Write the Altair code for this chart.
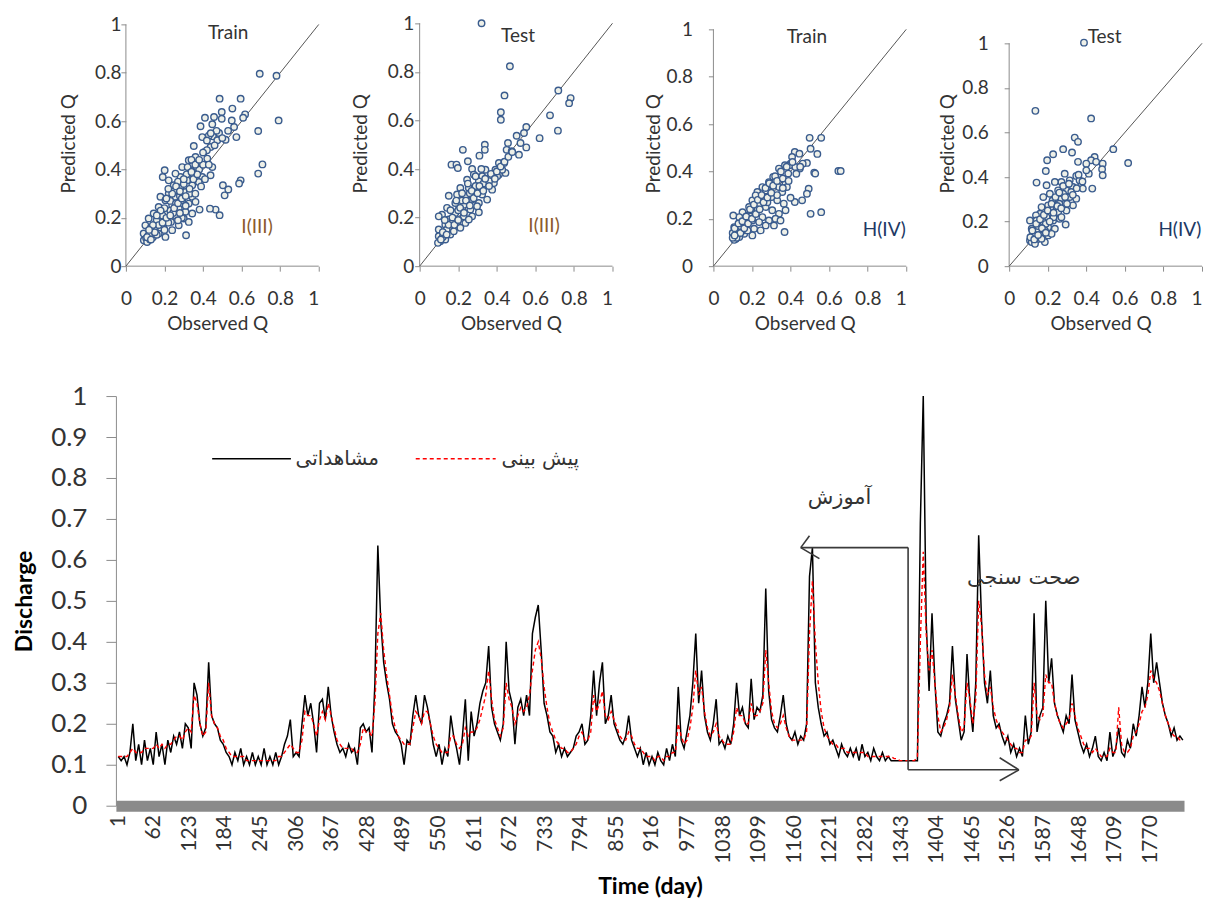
import altair as alt
import pandas as pd

# ---------------- time series (every 5th day) ----------------
obs = [
    0.12, 0.11, 0.12, 0.10, 0.13, 0.20, 0.11, 0.15, 0.10, 0.16, 0.11, 0.14,
    0.10, 0.18, 0.12, 0.15, 0.10, 0.16, 0.13, 0.17, 0.15, 0.18, 0.14, 0.20,
    0.19, 0.14, 0.30, 0.27, 0.20, 0.17, 0.19, 0.35, 0.22, 0.20, 0.19, 0.16,
    0.15, 0.13, 0.12, 0.10, 0.13, 0.11, 0.14, 0.10, 0.12, 0.10, 0.13, 0.10,
    0.12, 0.10, 0.14, 0.10, 0.12, 0.10, 0.13, 0.10, 0.12, 0.15, 0.17, 0.21,
    0.12, 0.13, 0.12, 0.20, 0.27, 0.22, 0.25, 0.20, 0.13, 0.25, 0.26, 0.21,
    0.29, 0.22, 0.18, 0.15, 0.13, 0.14, 0.12, 0.15, 0.13, 0.14, 0.10, 0.19,
    0.20, 0.18, 0.19, 0.13, 0.30, 0.635, 0.45, 0.35, 0.30, 0.26, 0.20, 0.18,
    0.17, 0.15, 0.10, 0.16, 0.15, 0.22, 0.27, 0.22, 0.20, 0.27, 0.24, 0.20,
    0.15, 0.12, 0.15, 0.10, 0.14, 0.12, 0.22, 0.17, 0.14, 0.10, 0.17, 0.26,
    0.11, 0.23, 0.17, 0.20, 0.25, 0.28, 0.30, 0.39, 0.24, 0.20, 0.18, 0.16,
    0.20, 0.40, 0.28, 0.25, 0.15, 0.24, 0.26, 0.22, 0.27, 0.22, 0.42, 0.46,
    0.49, 0.38, 0.25, 0.22, 0.18, 0.17, 0.13, 0.15, 0.12, 0.14, 0.12, 0.13,
    0.14, 0.17, 0.18, 0.20, 0.15, 0.16, 0.22, 0.33, 0.22, 0.30, 0.35, 0.20,
    0.22, 0.27, 0.20, 0.18, 0.16, 0.15, 0.17, 0.22, 0.16, 0.14, 0.12, 0.14,
    0.10, 0.13, 0.10, 0.12, 0.10, 0.13, 0.11, 0.10, 0.14, 0.11, 0.15, 0.12,
    0.29, 0.16, 0.14, 0.18, 0.22, 0.30, 0.42, 0.25, 0.33, 0.22, 0.18, 0.16,
    0.20, 0.26, 0.15, 0.16, 0.14, 0.17, 0.15, 0.20, 0.30, 0.22, 0.24, 0.20,
    0.19, 0.31, 0.21, 0.24, 0.23, 0.27, 0.53, 0.28, 0.21, 0.19, 0.18, 0.22,
    0.27, 0.20, 0.17, 0.16, 0.18, 0.15, 0.17, 0.16, 0.20, 0.56, 0.63, 0.30,
    0.24, 0.20, 0.17, 0.18, 0.15, 0.16, 0.14, 0.12, 0.15, 0.13, 0.12, 0.14,
    0.12, 0.14, 0.11, 0.15, 0.12, 0.13, 0.11, 0.14, 0.12, 0.11, 0.13, 0.11,
    0.12, 0.11, 0.11, 0.11, 0.11, 0.11, 0.11, 0.11, 0.11, 0.11, 0.11, 0.69,
    1.00, 0.45, 0.28, 0.47, 0.30, 0.18, 0.17, 0.20, 0.22, 0.25, 0.39, 0.26,
    0.21, 0.16, 0.18, 0.37, 0.25, 0.18, 0.30, 0.66, 0.45, 0.30, 0.25, 0.33,
    0.22, 0.19, 0.20, 0.17, 0.15, 0.17, 0.13, 0.15, 0.12, 0.14, 0.12, 0.22,
    0.15, 0.18, 0.47, 0.18, 0.22, 0.24, 0.50, 0.30, 0.36, 0.25, 0.22, 0.20,
    0.18, 0.22, 0.20, 0.32, 0.21, 0.18, 0.15, 0.13, 0.15, 0.12, 0.14, 0.17,
    0.12, 0.11, 0.13, 0.11, 0.18, 0.12, 0.14, 0.19, 0.13, 0.12, 0.16, 0.14,
    0.20, 0.17, 0.22, 0.29, 0.24, 0.30, 0.42, 0.30, 0.35, 0.30, 0.25, 0.22,
    0.20, 0.17, 0.19, 0.16, 0.17, 0.16,
]
pred = [
    0.12, 0.12, 0.12, 0.12, 0.13, 0.14, 0.13, 0.13, 0.13, 0.14, 0.14, 0.14,
    0.14, 0.15, 0.14, 0.15, 0.14, 0.15, 0.15, 0.16, 0.17, 0.17, 0.16, 0.18,
    0.19, 0.18, 0.27, 0.25, 0.20, 0.17, 0.18, 0.30, 0.22, 0.20, 0.19, 0.17,
    0.16, 0.14, 0.13, 0.12, 0.12, 0.12, 0.12, 0.12, 0.11, 0.11, 0.11, 0.11,
    0.11, 0.11, 0.11, 0.11, 0.11, 0.11, 0.11, 0.12, 0.12, 0.13, 0.14, 0.15,
    0.14, 0.13, 0.13, 0.16, 0.23, 0.22, 0.22, 0.20, 0.17, 0.21, 0.23, 0.21,
    0.25, 0.22, 0.19, 0.16, 0.15, 0.14, 0.14, 0.14, 0.14, 0.13, 0.13, 0.15,
    0.19, 0.18, 0.18, 0.17, 0.25, 0.42, 0.47, 0.38, 0.32, 0.27, 0.22, 0.19,
    0.17, 0.16, 0.15, 0.15, 0.15, 0.19, 0.23, 0.22, 0.20, 0.23, 0.23, 0.20,
    0.17, 0.15, 0.14, 0.13, 0.13, 0.13, 0.17, 0.17, 0.15, 0.14, 0.15, 0.19,
    0.17, 0.18, 0.18, 0.19, 0.21, 0.24, 0.27, 0.33, 0.26, 0.21, 0.19, 0.17,
    0.19, 0.30, 0.26, 0.24, 0.20, 0.22, 0.24, 0.23, 0.24, 0.27, 0.33, 0.38,
    0.40, 0.36, 0.29, 0.24, 0.20, 0.18, 0.16, 0.15, 0.14, 0.14, 0.13, 0.13,
    0.14, 0.15, 0.17, 0.18, 0.16, 0.16, 0.18, 0.27, 0.23, 0.25, 0.28, 0.22,
    0.21, 0.23, 0.21, 0.19, 0.17, 0.16, 0.16, 0.18, 0.17, 0.15, 0.14, 0.14,
    0.13, 0.12, 0.12, 0.12, 0.11, 0.12, 0.12, 0.11, 0.12, 0.12, 0.13, 0.13,
    0.20, 0.17, 0.15, 0.16, 0.19, 0.24, 0.33, 0.27, 0.29, 0.23, 0.19, 0.17,
    0.18, 0.20, 0.17, 0.16, 0.15, 0.15, 0.15, 0.18, 0.24, 0.22, 0.22, 0.20,
    0.20, 0.25, 0.22, 0.22, 0.23, 0.25, 0.38, 0.30, 0.23, 0.20, 0.19, 0.20,
    0.22, 0.19, 0.17, 0.16, 0.16, 0.16, 0.16, 0.16, 0.18, 0.42, 0.55, 0.40,
    0.30, 0.23, 0.19, 0.17, 0.16, 0.15, 0.15, 0.14, 0.14, 0.14, 0.13, 0.13,
    0.13, 0.13, 0.13, 0.13, 0.13, 0.12, 0.12, 0.12, 0.12, 0.12, 0.12, 0.12,
    0.12, 0.12, 0.115, 0.115, 0.11, 0.11, 0.11, 0.11, 0.11, 0.11, 0.12, 0.40,
    0.62, 0.42, 0.33, 0.38, 0.30, 0.22, 0.18, 0.19, 0.21, 0.24, 0.32, 0.27,
    0.22, 0.18, 0.19, 0.30, 0.26, 0.20, 0.26, 0.50, 0.44, 0.32, 0.27, 0.29,
    0.24, 0.21, 0.19, 0.18, 0.17, 0.16, 0.15, 0.14, 0.14, 0.13, 0.13, 0.16,
    0.16, 0.17, 0.30, 0.22, 0.21, 0.22, 0.32, 0.30, 0.30, 0.25, 0.22, 0.20,
    0.19, 0.20, 0.21, 0.25, 0.22, 0.19, 0.17, 0.15, 0.14, 0.14, 0.13, 0.14,
    0.13, 0.12, 0.12, 0.12, 0.14, 0.13, 0.13, 0.24, 0.15, 0.13, 0.13, 0.14,
    0.17, 0.18, 0.20, 0.23, 0.24, 0.27, 0.33, 0.31, 0.30, 0.28, 0.25, 0.22,
    0.20, 0.18, 0.17, 0.17, 0.16, 0.16,
]
day_step = 5
x_tick_days = list(range(1, 1771, 61))
y_ticks_bottom = [0, 0.1, 0.2, 0.3, 0.4, 0.5, 0.6, 0.7, 0.8, 0.9, 1]

# ---------------- scatter panels (observed, predicted) ----------------
p1_pts = [
    (0.694, 0.796), (0.781, 0.788), (0.792, 0.603), (0.686, 0.559), (0.708, 0.421),
    (0.686, 0.383), (0.595, 0.355), (0.587, 0.342), (0.503, 0.335), (0.531, 0.317),
    (0.512, 0.293), (0.486, 0.211), (0.465, 0.234), (0.436, 0.238), (0.382, 0.234),
    (0.312, 0.128), (0.486, 0.693), (0.595, 0.693), (0.552, 0.652), (0.618, 0.628),
    (0.608, 0.614), (0.410, 0.614), (0.457, 0.617), (0.497, 0.638), (0.497, 0.610),
    (0.448, 0.587), (0.387, 0.579), (0.561, 0.576), (0.573, 0.534), (0.549, 0.603),
    (0.517, 0.523), (0.483, 0.551), (0.451, 0.537), (0.396, 0.534), (0.474, 0.521),
    (0.439, 0.493), (0.405, 0.472), (0.352, 0.497), (0.448, 0.410), (0.439, 0.376),
    (0.396, 0.369), (0.422, 0.445), (0.361, 0.452), (0.326, 0.438), (0.368, 0.410),
    (0.335, 0.397), (0.378, 0.348), (0.344, 0.335), (0.318, 0.355), (0.292, 0.410),
    (0.283, 0.369), (0.257, 0.383), (0.201, 0.397), (0.191, 0.369), (0.222, 0.355),
    (0.248, 0.335), (0.283, 0.321), (0.309, 0.307), (0.344, 0.287), (0.361, 0.266),
    (0.326, 0.259), (0.292, 0.273), (0.257, 0.287), (0.222, 0.300), (0.179, 0.287),
    (0.205, 0.273), (0.240, 0.252), (0.274, 0.238), (0.309, 0.225), (0.344, 0.218),
    (0.300, 0.197), (0.257, 0.211), (0.214, 0.225), (0.170, 0.245), (0.144, 0.218),
    (0.188, 0.197), (0.234, 0.183), (0.274, 0.169), (0.326, 0.183), (0.240, 0.149),
    (0.196, 0.156), (0.153, 0.176), (0.118, 0.197), (0.101, 0.169), (0.127, 0.149),
    (0.170, 0.135), (0.205, 0.121), (0.092, 0.135), (0.093, 0.107), (0.105, 0.115),
    (0.115, 0.125), (0.135, 0.140), (0.150, 0.160), (0.160, 0.190), (0.175, 0.210),
    (0.230, 0.270), (0.250, 0.310), (0.270, 0.350), (0.300, 0.340), (0.230, 0.230),
    (0.260, 0.260), (0.280, 0.290), (0.200, 0.240), (0.180, 0.160), (0.220, 0.180),
    (0.140, 0.120), (0.160, 0.130), (0.110, 0.100), (0.125, 0.110), (0.290, 0.200),
    (0.330, 0.300), (0.315, 0.380), (0.350, 0.380), (0.380, 0.400), (0.400, 0.420),
    (0.340, 0.440), (0.420, 0.480), (0.470, 0.560), (0.430, 0.540), (0.500, 0.530),
    (0.530, 0.560), (0.210, 0.280), (0.245, 0.220), (0.270, 0.190), (0.190, 0.210),
    (0.120, 0.130), (0.130, 0.160), (0.150, 0.140), (0.170, 0.170), (0.190, 0.180),
    (0.210, 0.200), (0.230, 0.210), (0.250, 0.240), (0.270, 0.260), (0.290, 0.280),
    (0.310, 0.290), (0.330, 0.320), (0.350, 0.360), (0.370, 0.380), (0.240, 0.300),
    (0.260, 0.330), (0.280, 0.310), (0.300, 0.360), (0.320, 0.410), (0.340, 0.390),
    (0.360, 0.420), (0.380, 0.440), (0.400, 0.470), (0.420, 0.520), (0.440, 0.550),
    (0.460, 0.500), (0.220, 0.320), (0.180, 0.230), (0.160, 0.210), (0.140, 0.170),
    (0.120, 0.150), (0.110, 0.120), (0.130, 0.110), (0.200, 0.150), (0.280, 0.220),
    (0.310, 0.250), (0.360, 0.300), (0.390, 0.330), (0.410, 0.360), (0.430, 0.420),
]
p2_pts = [
    (0.321, 1.000), (0.468, 0.823), (0.440, 0.703), (0.421, 0.634), (0.421, 0.603),
    (0.719, 0.723), (0.783, 0.692), (0.775, 0.671), (0.676, 0.621), (0.717, 0.558),
    (0.622, 0.527), (0.553, 0.573), (0.541, 0.548), (0.503, 0.537), (0.553, 0.489),
    (0.515, 0.459), (0.523, 0.507), (0.458, 0.507), (0.451, 0.479), (0.477, 0.473),
    (0.411, 0.425), (0.438, 0.425), (0.445, 0.384), (0.411, 0.377), (0.338, 0.500),
    (0.338, 0.479), (0.310, 0.455), (0.224, 0.479), (0.250, 0.432), (0.165, 0.418),
    (0.191, 0.418), (0.198, 0.404), (0.272, 0.400), (0.341, 0.397), (0.393, 0.397),
    (0.367, 0.370), (0.324, 0.370), (0.281, 0.377), (0.307, 0.349), (0.350, 0.336),
    (0.385, 0.342), (0.246, 0.356), (0.211, 0.322), (0.255, 0.322), (0.289, 0.308),
    (0.324, 0.295), (0.350, 0.274), (0.307, 0.260), (0.272, 0.274), (0.237, 0.288),
    (0.194, 0.295), (0.151, 0.290), (0.185, 0.260), (0.229, 0.253), (0.263, 0.233),
    (0.307, 0.222), (0.272, 0.205), (0.229, 0.205), (0.185, 0.219), (0.142, 0.240),
    (0.116, 0.212), (0.099, 0.205), (0.151, 0.192), (0.194, 0.178), (0.237, 0.178),
    (0.211, 0.158), (0.168, 0.158), (0.133, 0.171), (0.099, 0.151), (0.125, 0.137),
    (0.159, 0.130), (0.099, 0.123), (0.107, 0.103), (0.133, 0.110), (0.095, 0.096),
    (0.177, 0.144), (0.255, 0.192), (0.298, 0.247), (0.376, 0.315), (0.402, 0.370),
    (0.428, 0.397), (0.120, 0.120), (0.140, 0.150), (0.170, 0.190), (0.200, 0.230),
    (0.220, 0.270), (0.260, 0.300), (0.290, 0.330), (0.330, 0.340), (0.360, 0.350),
    (0.110, 0.110), (0.120, 0.140), (0.140, 0.130), (0.150, 0.170), (0.170, 0.200),
    (0.180, 0.170), (0.200, 0.190), (0.210, 0.240), (0.230, 0.220), (0.240, 0.270),
    (0.260, 0.250), (0.270, 0.310), (0.280, 0.280), (0.300, 0.300), (0.310, 0.330),
    (0.330, 0.310), (0.340, 0.360), (0.360, 0.330), (0.370, 0.380), (0.390, 0.360),
    (0.400, 0.390), (0.420, 0.410), (0.440, 0.430), (0.460, 0.450), (0.480, 0.470),
    (0.130, 0.190), (0.160, 0.230), (0.190, 0.270), (0.220, 0.300), (0.250, 0.340),
    (0.290, 0.370), (0.320, 0.400),
]
p3_pts = [
    (0.499, 0.542), (0.559, 0.542), (0.504, 0.496), (0.539, 0.474), (0.422, 0.482),
    (0.446, 0.475), (0.485, 0.436), (0.648, 0.402), (0.660, 0.402), (0.523, 0.395),
    (0.528, 0.391), (0.448, 0.412), (0.400, 0.433), (0.371, 0.426), (0.340, 0.412),
    (0.310, 0.377), (0.388, 0.391), (0.494, 0.327), (0.485, 0.306), (0.460, 0.278),
    (0.422, 0.271), (0.400, 0.289), (0.504, 0.221), (0.559, 0.228), (0.369, 0.144),
    (0.374, 0.348), (0.340, 0.334), (0.305, 0.341), (0.271, 0.320), (0.228, 0.313),
    (0.262, 0.285), (0.302, 0.292), (0.331, 0.278), (0.365, 0.264), (0.374, 0.236),
    (0.340, 0.221), (0.305, 0.236), (0.271, 0.250), (0.237, 0.264), (0.202, 0.278),
    (0.185, 0.250), (0.219, 0.228), (0.254, 0.207), (0.288, 0.193), (0.314, 0.172),
    (0.322, 0.200), (0.348, 0.193), (0.271, 0.172), (0.237, 0.186), (0.202, 0.193),
    (0.168, 0.214), (0.151, 0.228), (0.134, 0.207), (0.103, 0.214), (0.168, 0.179),
    (0.211, 0.158), (0.245, 0.151), (0.202, 0.130), (0.160, 0.137), (0.134, 0.158),
    (0.108, 0.165), (0.108, 0.137), (0.117, 0.116), (0.134, 0.123), (0.108, 0.111),
    (0.130, 0.151), (0.151, 0.151), (0.177, 0.151), (0.288, 0.355), (0.322, 0.362),
    (0.254, 0.334), (0.219, 0.299), (0.357, 0.313), (0.381, 0.334), (0.395, 0.426),
    (0.425, 0.419), (0.463, 0.433), (0.408, 0.461), (0.120, 0.130), (0.140, 0.170),
    (0.190, 0.210), (0.230, 0.240), (0.280, 0.270), (0.330, 0.300), (0.360, 0.330),
    (0.100, 0.140), (0.110, 0.160), (0.120, 0.120), (0.130, 0.180), (0.140, 0.140),
    (0.150, 0.190), (0.160, 0.160), (0.170, 0.210), (0.180, 0.180), (0.190, 0.240),
    (0.200, 0.200), (0.210, 0.260), (0.220, 0.220), (0.230, 0.280), (0.240, 0.240),
    (0.250, 0.300), (0.260, 0.270), (0.270, 0.330), (0.280, 0.290), (0.290, 0.350),
    (0.300, 0.310), (0.310, 0.340), (0.320, 0.380), (0.330, 0.360), (0.350, 0.400),
    (0.360, 0.370), (0.380, 0.420), (0.390, 0.360), (0.410, 0.440), (0.430, 0.390),
    (0.450, 0.420), (0.100, 0.120), (0.110, 0.130),
]
p4_pts = [
    (0.388, 1.003), (0.136, 0.697), (0.425, 0.663), (0.340, 0.577), (0.357, 0.558),
    (0.540, 0.525), (0.280, 0.525), (0.228, 0.502), (0.326, 0.510), (0.197, 0.475),
    (0.443, 0.490), (0.425, 0.475), (0.451, 0.468), (0.485, 0.460), (0.617, 0.463),
    (0.357, 0.468), (0.400, 0.460), (0.482, 0.435), (0.485, 0.408), (0.413, 0.415),
    (0.190, 0.427), (0.142, 0.375), (0.431, 0.348), (0.288, 0.415), (0.348, 0.405),
    (0.314, 0.385), (0.271, 0.378), (0.237, 0.378), (0.194, 0.363), (0.374, 0.363),
    (0.331, 0.355), (0.297, 0.340), (0.254, 0.340), (0.211, 0.325), (0.177, 0.310),
    (0.225, 0.295), (0.271, 0.303), (0.314, 0.310), (0.348, 0.303), (0.331, 0.273),
    (0.288, 0.280), (0.245, 0.265), (0.202, 0.273), (0.168, 0.265), (0.211, 0.235),
    (0.254, 0.243), (0.297, 0.250), (0.293, 0.187), (0.262, 0.213), (0.228, 0.205),
    (0.194, 0.220), (0.160, 0.235), (0.139, 0.228), (0.108, 0.205), (0.142, 0.205),
    (0.177, 0.198), (0.202, 0.175), (0.237, 0.168), (0.185, 0.160), (0.151, 0.160),
    (0.117, 0.168), (0.125, 0.145), (0.160, 0.138), (0.202, 0.138), (0.185, 0.108),
    (0.142, 0.118), (0.108, 0.115), (0.117, 0.108), (0.134, 0.100), (0.168, 0.123),
    (0.220, 0.145), (0.271, 0.220), (0.280, 0.325), (0.322, 0.333), (0.365, 0.385),
    (0.382, 0.348), (0.150, 0.180), (0.190, 0.190), (0.230, 0.220), (0.260, 0.280),
    (0.110, 0.130), (0.120, 0.160), (0.130, 0.120), (0.140, 0.190), (0.150, 0.140),
    (0.160, 0.210), (0.170, 0.170), (0.180, 0.230), (0.190, 0.150), (0.200, 0.250),
    (0.210, 0.200), (0.220, 0.280), (0.230, 0.240), (0.240, 0.310), (0.250, 0.270),
    (0.260, 0.330), (0.270, 0.260), (0.280, 0.360), (0.290, 0.310), (0.300, 0.280),
    (0.310, 0.370), (0.330, 0.320), (0.350, 0.350), (0.360, 0.410), (0.380, 0.380),
    (0.400, 0.430),
]
scatter_ticks = [0, 0.2, 0.4, 0.6, 0.8, 1]

FONT = "Lato"
FA_FONT = "DejaVu Sans"
GRAY = "#8c8c8c"
TXT = "#333333"
SHIFT = 10          # px of empty space kept left of each scatter plot's origin
PW = 193            # scatter plot width (0..1)


def panel(pts, run_label, model_label, model_color, ymax, run_pos, model_pos,
          lab_pad, title_pad):
    X = alt.X("o:Q", scale=alt.Scale(domain=[-SHIFT / PW, 1], nice=False, zero=False),
              axis=alt.Axis(values=scatter_ticks, format="~g", title="Observed Q",
                            grid=False, domain=False, tickColor=GRAY, tickSize=5,
                            labelPadding=18, labelFontSize=19, labelColor=TXT,
                            titleFontSize=19, titleFontWeight="normal", titleColor=TXT,
                            titlePadding=6, labelFont=FONT, titleFont=FONT))
    Y = alt.Y("p:Q", scale=alt.Scale(domain=[0, ymax], nice=False, zero=False),
              axis=alt.Axis(values=scatter_ticks, format="~g", title="Predicted Q",
                            grid=False, domain=False, tickColor=GRAY, tickSize=5,
                            offset=-SHIFT,
                            labelPadding=lab_pad, labelFontSize=19, labelColor=TXT,
                            titleFontSize=19, titleFontWeight="normal", titleColor=TXT,
                            titlePadding=title_pad, labelFont=FONT, titleFont=FONT))
    df = pd.DataFrame(pts, columns=["o", "p"])
    yaxis_line = alt.Chart(pd.DataFrame({"o": [0], "p": [0], "p2": [1]})).mark_rule(
        color=GRAY, strokeWidth=1).encode(x=X, y=Y, y2="p2:Q")
    xaxis_line = alt.Chart(pd.DataFrame({"o": [0], "o2": [1], "p": [0]})).mark_rule(
        color=GRAY, strokeWidth=1).encode(x=X, x2="o2:Q", y=Y)
    diag = alt.Chart(pd.DataFrame({"o": [0, 1], "p": [0, 1]})).mark_line(
        color="#555555", strokeWidth=1).encode(x=X, y=Y)
    dots = alt.Chart(df).mark_circle(size=42, fill="#EEF0E8", stroke="#3A5C8E",
                                     strokeWidth=1.4, opacity=1).encode(x=X, y=Y)
    t1 = alt.Chart(pd.DataFrame({"o": [run_pos[0]], "p": [run_pos[1]], "t": [run_label]})).mark_text(
        font=FONT, fontSize=19, color=TXT).encode(x=X, y=Y, text="t:N")
    t2 = alt.Chart(pd.DataFrame({"o": [model_pos[0]], "p": [model_pos[1]], "t": [model_label]})).mark_text(
        font=FONT, fontSize=19, color=model_color).encode(x=X, y=Y, text="t:N")
    return alt.layer(yaxis_line, xaxis_line, diag, dots, t1, t2).properties(
        width=PW + SHIFT, height=246)


p1 = panel(p1_pts, "Train", "I(III)", "#8B5A2B", 1.017, (0.53, 0.963), (0.68, 0.161), 0, 16)
p2 = panel(p2_pts, "Test", "I(III)", "#8B5A2B", 1.012, (0.51, 0.946), (0.645, 0.165), 1, 17)
p3 = panel(p3_pts, "Train", "H(IV)", "#203864", 1.038, (0.485, 0.966), (0.886, 0.152), 16, 2)
p4 = panel(p4_pts, "Test", "H(IV)", "#203864", 1.103, (0.495, 1.03), (0.885, 0.161), 16, 4)

top = alt.hconcat(p1, p2, p3, p4, spacing=30)

# ---------------- bottom time-series chart ----------------
days = list(range(1, 1 + day_step * len(obs), day_step))
obs_df = pd.DataFrame({"day": days[:len(obs)], "v": obs})
pred_df = pd.DataFrame({"day": list(range(1, 1 + day_step * len(pred), day_step)), "v": pred})

BX = alt.X("day:Q", scale=alt.Scale(domain=[-3, 1828], nice=False, zero=False),
           axis=alt.Axis(values=x_tick_days, format="d", labelAngle=270, title="Time (day)",
                         grid=False, domainColor="#8a8a8a", domainWidth=11, ticks=False,
                         labelPadding=9, labelFontSize=21, labelColor=TXT, labelFont=FONT,
                         titleFont=FONT, titleFontSize=23, titleFontWeight="bold",
                         titleColor="#000000", titlePadding=12, labelOverlap=False))
BY = alt.Y("v:Q", scale=alt.Scale(domain=[0, 1], nice=False, zero=False),
           axis=alt.Axis(values=y_ticks_bottom, format="~g", title="Discharge", grid=False,
                         domainColor=GRAY, tickColor=GRAY, tickSize=10, labelPadding=19,
                         labelFontSize=26, labelColor=TXT, labelFont=FONT,
                         titleFont=FONT, titleFontSize=23, titleFontWeight="bold",
                         titleColor="#000000", titlePadding=14))

obs_line = alt.Chart(obs_df).mark_line(color="#000000", strokeWidth=1.5).encode(x=BX, y=BY)
pred_line = alt.Chart(pred_df).mark_line(color="#FF0000", strokeWidth=1.4,
                                         strokeDash=[4, 3]).encode(x=BX, y=BY)

# legend (drawn inside the plot)
leg_obs = pd.DataFrame({"day": [162], "day2": [297], "v": [0.847], "v2": [0.847]})
leg_pred = pd.DataFrame({"day": [511], "day2": [648], "v": [0.847], "v2": [0.847]})
leg_txt = pd.DataFrame({"day": [305, 658], "v": [0.847, 0.847], "t": ["مشاهداتی", "پیش بینی"]})
leg_l1 = alt.Chart(leg_obs).mark_rule(color="#000000", strokeWidth=1.5).encode(
    x=BX, x2="day2:Q", y=BY, y2="v2:Q")
leg_l2 = alt.Chart(leg_pred).mark_rule(color="#FF0000", strokeWidth=1.5, strokeDash=[4, 3]).encode(
    x=BX, x2="day2:Q", y=BY, y2="v2:Q")
leg_t = alt.Chart(leg_txt).mark_text(font=FA_FONT, fontSize=20, color=TXT, align="left",
                                     baseline="middle").encode(x=BX, y=BY, text="t:N")

# train / validation arrows
arrow_df = pd.DataFrame({
    "day":  [1171, 1355, 1355, 1171, 1171, 1545, 1545],
    "day2": [1355, 1355, 1545, 1186, 1203, 1512, 1512],
    "v":    [0.630, 0.630, 0.0876, 0.630, 0.630, 0.0876, 0.0876],
    "v2":   [0.630, 0.0876, 0.0876, 0.659, 0.603, 0.117, 0.061],
})
arrows = alt.Chart(arrow_df).mark_rule(color="#3a3a3a", strokeWidth=1.6).encode(
    x=BX, x2="day2:Q", y=BY, y2="v2:Q")
ann_df = pd.DataFrame({"day": [1183, 1456], "v": [0.752, 0.557], "t": ["آموزش", "صحت سنجی"]})
ann = alt.Chart(ann_df).mark_text(font=FA_FONT, fontSize=21, color=TXT, align="left",
                                  baseline="middle").encode(x=BX, y=BY, text="t:N")

bottom = alt.layer(obs_line, pred_line, leg_l1, leg_l2, leg_t, arrows, ann).properties(
    width=1069, height=410)

chart = alt.vconcat(top, bottom, spacing=50).configure_view(stroke=None).properties(
    padding={"left": 5, "top": 5, "right": 0, "bottom": 5})

chart.save("out.html", embed_options={"renderer": "svg", "actions": False})
